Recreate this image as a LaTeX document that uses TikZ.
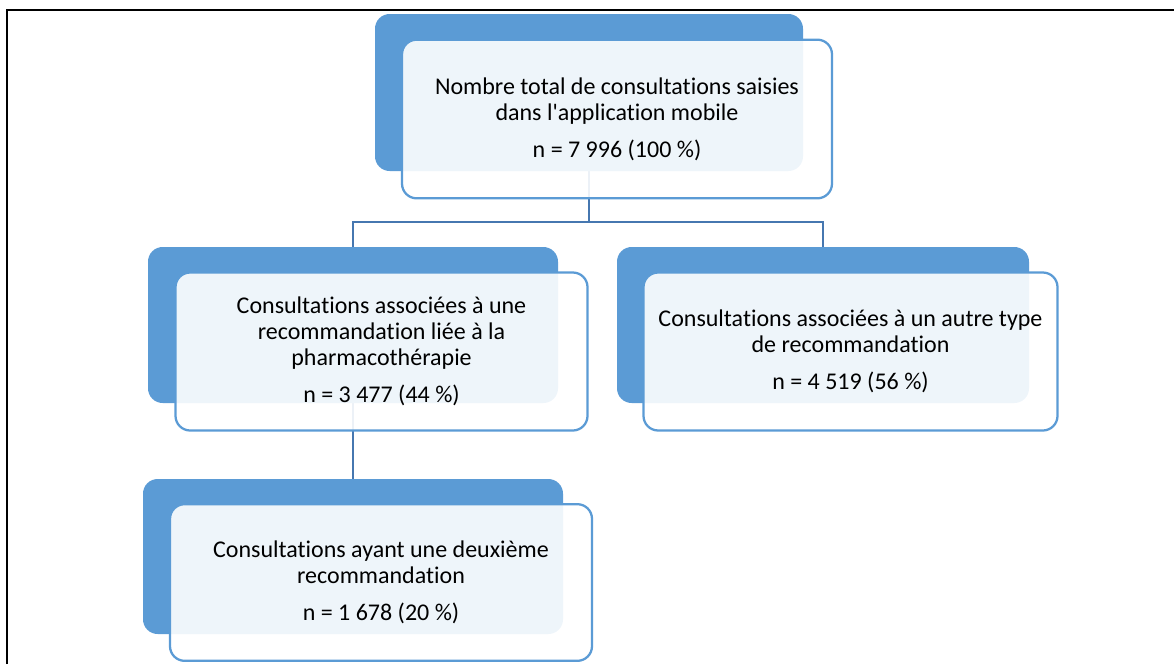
\documentclass[tikz,border=0pt]{standalone}
\usepackage{fontspec}
\setmainfont{Carlito}[Ligatures={TeXOff,NoCommon}]
\usetikzlibrary{positioning, backgrounds}
\definecolor{box-dark}{HTML}{5B9BD5}
\definecolor{box-line}{HTML}{5B9BD5}
\definecolor{link-color}{HTML}{4677B0}
\tikzset{
  back-node/.style 2 args={
    fill=box-dark, draw=none, rounded corners=11pt,
    minimum width=#1, minimum height=#2
  },
  front-node/.style 2 args={
    draw=box-line, line width=1.7pt, fill=white, fill opacity=0.9, text opacity=1,
    rounded corners=11pt, minimum width=#1, minimum height=#2, align=center,
    font=\fontsize{18}{19.5}\selectfont
  },
  link/.style={line width=1.8pt, draw=link-color},
  frame/.style={line width=1.5pt, draw=black}
}

\begin{document}
\begin{tikzpicture}[x=0.75pt, y=-0.75pt]
  \useasboundingbox (0,0) rectangle (1174,664);
  \draw[frame] (7,664) -- (7,10) -- (1174,10);

  \node[back-node={321pt}{117.75pt}]   (total-bg)  at (589,92.5)  {};
  \node[front-node={322.5pt}{119pt}]   (total)     at ([shift={(28,26.5)}]total-bg.center)
    {Nombre total de consultations saisies\\dans l'application mobile\\[8pt]n = 7~996 (100~\%)};

  \node[back-node={307.5pt}{117pt}]    (pharma-bg) at (353,325)   {};
  \node[front-node={309pt}{118.5pt}]   (pharma)    at ([shift={(28.5,26.5)}]pharma-bg.center)
    {Consultations associées à une\\recommandation liée à la\\pharmacothérapie\\[8pt]n = 3~477 (44~\%)};

  \node[back-node={309pt}{117pt}]      (other-bg)  at (823,325)   {};
  \node[front-node={310.5pt}{118.5pt}] (other)     at ([shift={(27.5,26.5)}]other-bg.center)
    {Consultations associées à un autre type\\de recommandation\\[8pt]n = 4~519 (56~\%)};

  \node[back-node={315pt}{116.25pt}]   (second-bg) at (353,556.5) {};
  \node[front-node={316.5pt}{117.5pt}] (second)    at ([shift={(28,26)}]second-bg.center)
    {Consultations ayant une deuxième\\recommandation\\[8pt]n = 1~678 (20~\%)};

  \coordinate (split) at (589,222);
  \begin{scope}[on background layer]
    \draw[link] (total-bg.south) -- (split);
    \draw[link] (pharma-bg.north) |- (split) -| (other-bg.north);
    \draw[link] (pharma-bg.south) -- (second-bg.north);
  \end{scope}
\end{tikzpicture}
\end{document}
